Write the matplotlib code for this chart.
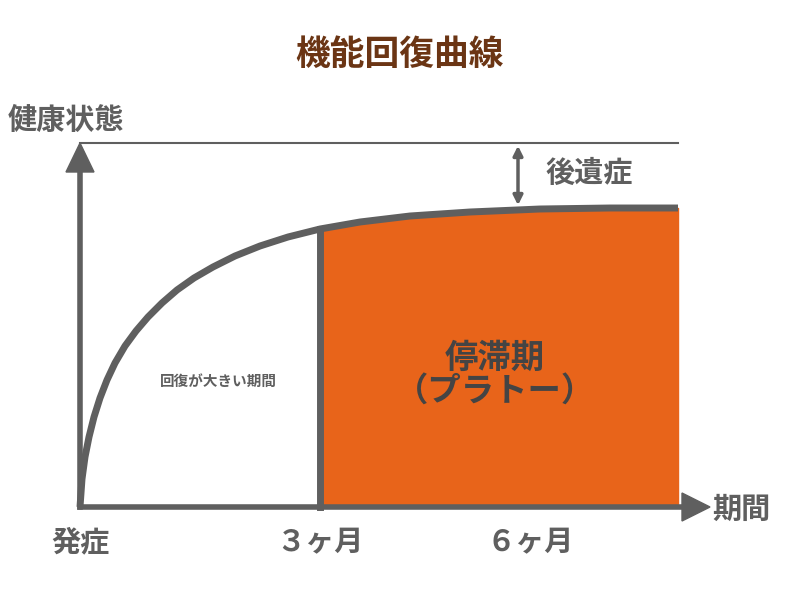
import matplotlib.pyplot as plt
import numpy as np

plt.rcParams['font.family'] = ['Noto Sans CJK JP', 'DejaVu Sans']

# recovery curve (x: elapsed, y: health), pixel-like units
curve_x = [0, 2, 5, 9, 14, 20, 27, 35, 45, 56, 68, 82, 97, 114, 133, 155, 180,
           208, 240, 280, 330, 390, 460, 530, 598]
curve_y = [0, 28, 50, 70, 90, 109, 127, 144, 161, 176, 190, 204, 217, 229, 240,
           251, 261, 270, 278, 285, 291, 295, 298, 299, 299]
plateau_start = 240
x_labels = ["発症", "３ヶ月", "６ヶ月"]
x_label_pos = [0, 240, 450]

ox, oy = 80, 507  # origin in figure pixels
grey = "#5f5f5f"
orange = "#e8641a"

fig = plt.figure(figsize=(8, 6), dpi=100)
ax = fig.add_axes([0, 0, 1, 1])
ax.set_xlim(0, 800)
ax.set_ylim(600, 0)
ax.axis("off")

cx = np.array(curve_x) + ox
cy = oy - np.array(curve_y)

# plateau fill
mask = cx >= plateau_start + ox
ax.fill_between(cx[mask], cy[mask], oy, color=orange, zorder=1)
ax.plot([plateau_start + ox] * 2, [oy, np.interp(plateau_start + ox, cx, cy)],
        color=grey, lw=5, zorder=3)
ax.plot(cx, cy, color=grey, lw=5, zorder=3, solid_capstyle="butt",
        solid_joinstyle="round")

# axes
ax.plot([ox, ox], [oy, 170], color=grey, lw=4, zorder=4)
ax.plot([ox, 685], [oy, oy], color=grey, lw=4, zorder=4)
ax.fill([ox - 14, ox + 14, ox], [172, 172, 143], color=grey, zorder=4)
ax.fill([682, 682, 710], [oy - 14, oy + 14, oy], color=grey, zorder=4)

# reference line and sequela arrow
ax.plot([ox, 678], [143, 143], color=grey, lw=1.5)
ax.annotate("", xy=(518, 143), xytext=(518, 208),
            arrowprops=dict(arrowstyle="<|-|>", color=grey, lw=2.5, mutation_scale=14))

ax.text(400, 55, "機能回復曲線", ha="center", va="center", fontsize=25,
        fontweight="bold", color="#6b3514")
ax.text(8, 120, "健康状態", ha="left", va="center", fontsize=21, fontweight="bold", color=grey)
ax.text(545, 173, "後遺症", ha="left", va="center", fontsize=21, fontweight="bold", color=grey)
ax.text(712, 509, "期間", ha="left", va="center", fontsize=21, fontweight="bold", color=grey)
for lab, p in zip(x_labels, x_label_pos):
    ax.text(ox + p, 542, lab, ha="center", va="center", fontsize=21,
            fontweight="bold", color=grey)
ax.text(218, 381, "回復が大きい期間", ha="center", va="center", fontsize=10.5,
        fontweight="bold", color=grey)
ax.text(495, 375, "停滞期\n（プラトー）", ha="center", va="center", fontsize=24,
        fontweight="bold", color="#444444", linespacing=1.0)

fig.savefig("out.png", dpi=100)
